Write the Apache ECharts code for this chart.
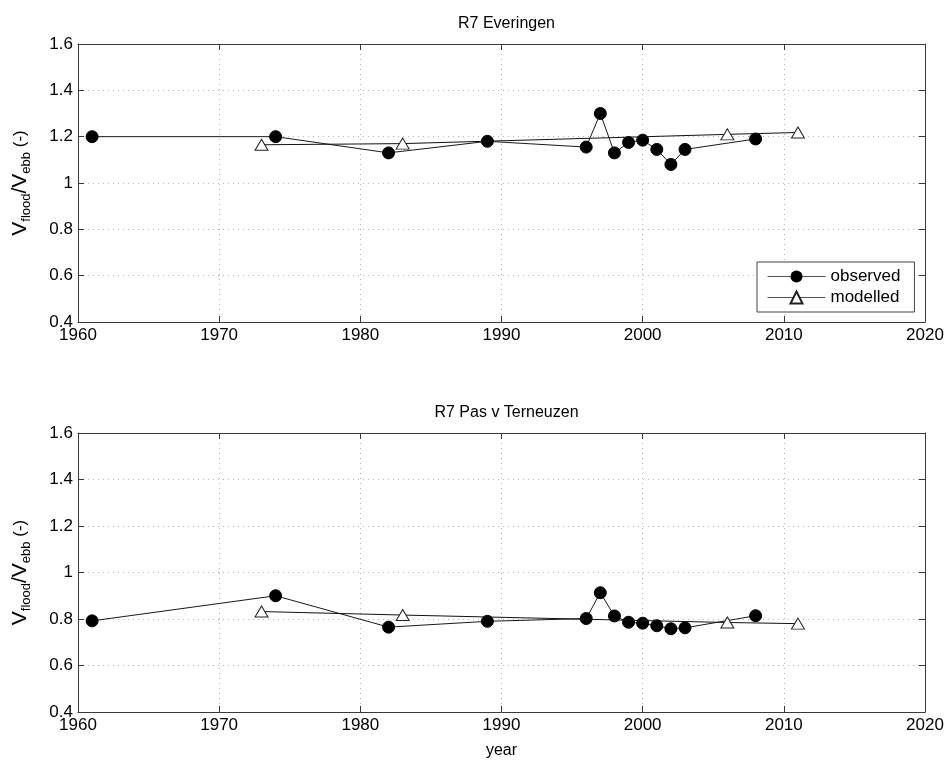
<!DOCTYPE html>
<html>
<head>
<meta charset="utf-8">
<script src="https://cdn.jsdelivr.net/npm/echarts@6/dist/echarts.min.js"></script>
<style>
  html, body { margin: 0; padding: 0; background: #fff; }
  #chart { width: 949px; height: 760px; }
</style>
</head>
<body>
<div id="chart"></div>
<script>
// Flood/ebb velocity ratio for two R7 transects
const panelTitles = ['R7 Everingen', 'R7 Pas v Terneuzen'];
const xTicks = { min: 1960, max: 2020, step: 10 };
const yTicks = { min: 0.4, max: 1.6, step: 0.2 };

const observedYears = [1961, 1974, 1982, 1989, 1996, 1997, 1998, 1999, 2000, 2001, 2002, 2003, 2008];
const observedEveringen = [1.20, 1.20, 1.13, 1.18, 1.155, 1.30, 1.13, 1.175, 1.185, 1.145, 1.08, 1.145, 1.19];
const observedTerneuzen = [0.792, 0.90, 0.765, 0.79, 0.802, 0.913, 0.813, 0.786, 0.782, 0.771, 0.758, 0.762, 0.814];

const modelledYears = [1973, 1983, 2006, 2011];
const modelledEveringen = [1.165, 1.17, 1.21, 1.218];
const modelledTerneuzen = [0.832, 0.817, 0.785, 0.78];

const FONT = 'Liberation Sans, Arial, Helvetica, sans-serif';
const grids = [
  { left: 78, top: 44, width: 847, height: 278 },
  { left: 78, top: 433, width: 847, height: 279 }
];

function pairs(xs, ys) { return xs.map((x, i) => [x, ys[i]]); }

const axisLine = { show: true, lineStyle: { color: '#3a3a3a', width: 1 } };
const tick = { show: true, inside: true, length: 6, lineStyle: { color: '#3a3a3a' } };
const grid = { show: true, lineStyle: { color: '#b4b4b4', width: 1, type: [1, 4] } };

const xAxis = [], yAxis = [];
grids.forEach((g, i) => {
  xAxis.push({
    type: 'value', gridIndex: i, min: xTicks.min, max: xTicks.max, interval: xTicks.step,
    axisLine, axisTick: tick, splitLine: grid,
    axisLabel: { color: '#000', fontFamily: FONT, fontSize: 17, margin: 5, formatter: v => String(v) },
    name: i === 1 ? 'year' : '', nameLocation: 'middle', nameGap: 31,
    nameTextStyle: { color: '#000', fontFamily: FONT, fontSize: 16 }
  });
  xAxis.push({
    type: 'value', gridIndex: i, position: 'top', min: xTicks.min, max: xTicks.max, interval: xTicks.step,
    axisLine, axisTick: tick, axisLabel: { show: false }, splitLine: { show: false }
  });
  yAxis.push({
    type: 'value', gridIndex: i, min: yTicks.min, max: yTicks.max, interval: yTicks.step,
    axisLine, axisTick: tick, splitLine: grid,
    axisLabel: { color: '#000', fontFamily: FONT, fontSize: 17, margin: 5 },
    name: '{v|V}{s|flood}{v|/V}{s|ebb}{p| (-)}',
    nameLocation: 'middle', nameRotate: 90, nameGap: 45,
    nameTextStyle: {
      color: '#000', fontFamily: FONT,
      rich: {
        v: { fontSize: 21, fontFamily: FONT, color: '#000', lineHeight: 26, verticalAlign: 'middle' },
        s: { fontSize: 13, fontFamily: FONT, color: '#000', lineHeight: 12, verticalAlign: 'bottom' },
        p: { fontSize: 17, fontFamily: FONT, color: '#000', lineHeight: 26, verticalAlign: 'middle' }
      }
    }
  });
  yAxis.push({
    type: 'value', gridIndex: i, position: 'right', min: yTicks.min, max: yTicks.max, interval: yTicks.step,
    axisLine, axisTick: tick, axisLabel: { show: false }, splitLine: { show: false }
  });
});

function observedSeries(idx, values) {
  return {
    name: 'observed', type: 'line', xAxisIndex: idx * 2, yAxisIndex: idx * 2,
    data: pairs(observedYears, values),
    symbol: 'circle', symbolSize: 12,
    itemStyle: { color: '#000', borderColor: '#000' },
    lineStyle: { color: '#1a1a1a', width: 1 },
    z: 3, animation: false
  };
}
function modelledSeries(idx, values) {
  return {
    name: 'modelled', type: 'line', xAxisIndex: idx * 2, yAxisIndex: idx * 2,
    data: pairs(modelledYears, values),
    symbol: 'triangle', symbolSize: [13, 11],
    itemStyle: { color: '#fff', borderColor: '#222', borderWidth: 1 },
    lineStyle: { color: '#111', width: 1 },
    z: 4, animation: false
  };
}

const chart = echarts.init(document.getElementById('chart'), null, { renderer: 'canvas' });
chart.setOption({
  backgroundColor: '#fff',
  animation: false,
  title: panelTitles.map((t, i) => ({
    text: t, left: grids[i].left + grids[i].width / 2, textAlign: 'center',
    top: grids[i].top - 33,
    textStyle: { color: '#000', fontFamily: FONT, fontSize: 16, fontWeight: 'normal' }
  })),
  legend: {
    data: ['observed', 'modelled'],
    orient: 'vertical', left: 757, top: 262,
    padding: [6, 14, 6, 10], itemGap: 4, itemWidth: 58, itemHeight: 15,
    backgroundColor: '#fff', borderColor: '#444', borderWidth: 1,
    lineStyle: { width: 1, color: '#555' },
    textStyle: { color: '#000', fontFamily: FONT, fontSize: 17 },
    selectedMode: false
  },
  grid: grids,
  xAxis, yAxis,
  series: [
    observedSeries(0, observedEveringen),
    modelledSeries(0, modelledEveringen),
    observedSeries(1, observedTerneuzen),
    modelledSeries(1, modelledTerneuzen)
  ]
});
</script>
</body>
</html>
